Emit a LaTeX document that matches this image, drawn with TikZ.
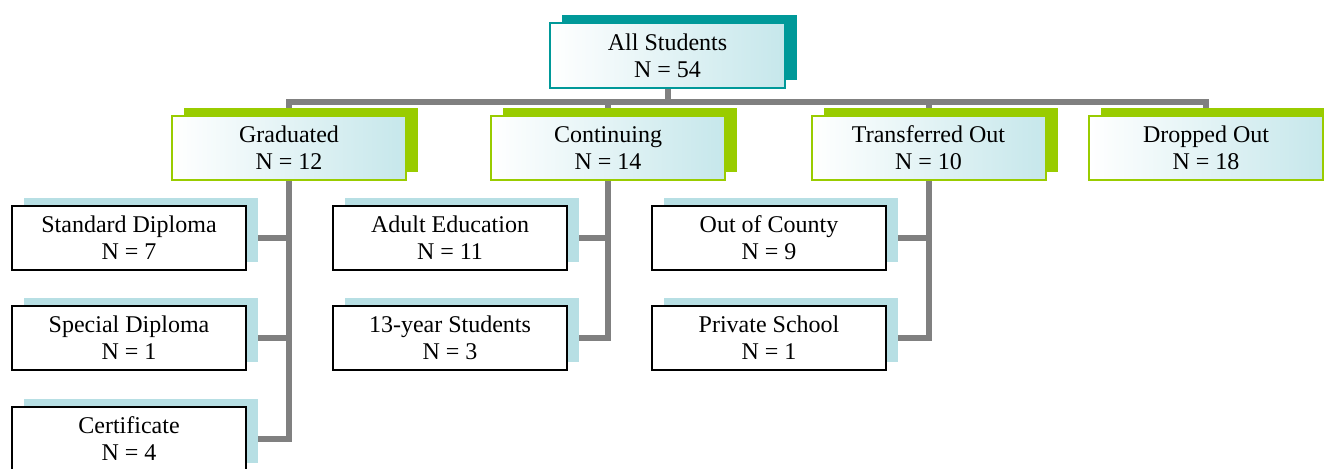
\documentclass[tikz,border=0pt]{standalone}
\usepackage{fontspec}
\setmainfont{Liberation Serif}
\usetikzlibrary{shadows,backgrounds}
\definecolor{tealshadow}{RGB}{0,153,153}
\definecolor{limeshadow}{RGB}{153,204,0}
\definecolor{paleblue}{RGB}{183,223,228}
\definecolor{shadeblue}{RGB}{198,231,235}
\definecolor{linkgray}{RGB}{128,128,128}
\tikzset{
  box/.style={rectangle, minimum width=175.5pt, minimum height=48pt, inner sep=0pt,
    align=center, font=\fontsize{18}{20.3}\selectfont, line width=1.5pt},
  rootbox/.style={box, minimum width=176pt, minimum height=48.75pt, draw=tealshadow,
    left color=white, right color=shadeblue,
    copy shadow={shadow xshift=9pt, shadow yshift=6pt, fill=tealshadow, draw=none}},
  groupbox/.style={box, draw=limeshadow, left color=white, right color=shadeblue,
    copy shadow={shadow xshift=9pt, shadow yshift=6pt, fill=limeshadow, draw=none}},
  leafbox/.style={box, draw=black, fill=white,
    copy shadow={shadow xshift=9pt, shadow yshift=6pt, fill=paleblue, draw=none}},
  link/.style={draw=linkgray, line width=4.5pt}
}
\begin{document}
\begin{tikzpicture}[x=0.75pt, y=-0.75pt]
  \clip (0,0) rectangle (1324,468);

  % top of the tree
  \node[rootbox] (all) at (667.5,55.5) {All Students\\N = 54};

  % outcome groups
  \node[groupbox] (grad)  at (289,148)    {Graduated\\N = 12};
  \node[groupbox] (cont)  at (608,148)    {Continuing\\N = 14};
  \node[groupbox] (trans) at (928.5,148)  {Transferred Out\\N = 10};
  \node[groupbox] (drop)  at (1206,148)   {\raisebox{-3.5pt}{\shortstack{Dropped Out\\[1.5pt]N = 18}}};

  % graduated breakdown
  \node[leafbox] (std)  at (129,238) {Standard Diploma\\N = 7};
  \node[leafbox] (spec) at (129,338) {Special Diploma\\N = 1};
  \node[leafbox] (cert) at (129,439) {Certificate\\N = 4};

  % continuing breakdown
  \node[leafbox] (adult) at (450,238) {Adult Education\\N = 11};
  \node[leafbox] (thirt) at (450,338) {13-year Students\\N = 3};

  % transferred breakdown
  \node[leafbox] (county)  at (769,238) {Out of County\\N = 9};
  \node[leafbox] (private) at (769,338) {Private School\\N = 1};

  \begin{pgfonlayer}{background}
    \draw[link] (all.south) -- ++(0,13) -| (grad.north);
    \draw[link] (all.south) -- ++(0,13) -| (cont.north);
    \draw[link] (all.south) -- ++(0,13) -| (trans.north);
    \draw[link] (all.south) -- ++(0,13) -| (drop.north);

    \draw[link] (grad.south) |- (std.east);
    \draw[link] (grad.south) |- (spec.east);
    \draw[link] (grad.south) |- (cert.east);

    \draw[link] (cont.south) |- (adult.east);
    \draw[link] (cont.south) |- (thirt.east);

    \draw[link] (trans.south) |- (county.east);
    \draw[link] (trans.south) |- (private.east);
  \end{pgfonlayer}
\end{tikzpicture}
\end{document}
